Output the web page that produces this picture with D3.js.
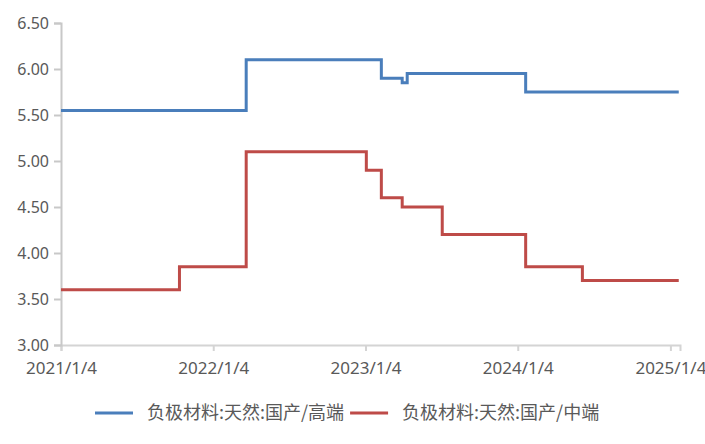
<!DOCTYPE html>
<html>
<head>
<meta charset="utf-8">
<script src="https://cdn.jsdelivr.net/npm/d3@7"></script>
<style>
  body { margin: 0; background: white; }
  text { font-family: "Noto Sans", "Noto Sans CJK SC", sans-serif; fill: #595959; }
  .legend text { font-family: "Noto Sans CJK SC", sans-serif; }
</style>
</head>
<body>
<div id="chart"></div>
<script>
// series: dates where price changes and the price from then on
var highDates = ["2021-01-04", "2022-03-24", "2023-02-11", "2023-04-02", "2023-04-14", "2024-01-23", "2025-01-24"]
var highValues = [5.55, 6.10, 5.90, 5.85, 5.95, 5.75, 5.75]

var midDates = ["2021-01-04", "2021-10-15", "2022-03-24", "2023-01-06", "2023-02-11", "2023-04-02", "2023-07-07", "2024-01-23", "2024-06-07", "2025-01-24"]
var midValues = [3.60, 3.85, 5.10, 4.90, 4.60, 4.50, 4.20, 3.85, 3.70, 3.70]

var seriesNames = ["负极材料:天然:国产/高端", "负极材料:天然:国产/中端"]
var seriesColors = ["#4a7ebb", "#be4b48"]

var xTicks = ["2021-01-04", "2022-01-04", "2023-01-04", "2024-01-04", "2025-01-04"]
var yTicks = [3.00, 3.50, 4.00, 4.50, 5.00, 5.50, 6.00, 6.50]

// set the dimensions and margins of the graph
var margin = {top: 23, right: 25, bottom: 99, left: 61},
    width = 705 - margin.left - margin.right,
    height = 444 - margin.top - margin.bottom;

var parse = d3.timeParse("%Y-%m-%d")

function toPoints(dates, values) {
    return dates.map(function(d, i) { return {date: parse(d), value: values[i]} })
}

var series = [toPoints(highDates, highValues), toPoints(midDates, midValues)]

var svg = d3.select("#chart")
    .append("svg")
    .attr("width", 705)
    .attr("height", 444)

var g = svg.append("g")
    .attr("transform", "translate(" + margin.left + "," + margin.top + ")")

var x = d3.scaleTime()
    .domain([parse("2021-01-04"), parse("2025-01-27")])
    .range([0, width])

var y = d3.scaleLinear()
    .domain([3, 6.5])
    .range([height, 0])

// X axis
var xAxis = g.append("g")
    .attr("transform", "translate(0," + height + ")")
    .call(d3.axisBottom(x)
        .tickValues(xTicks.map(parse))
        .tickFormat(d3.timeFormat("%Y/%-m/%-d"))
        .tickSizeOuter(0)
        .tickSize(6)
        .tickPadding(11))
xAxis.select(".domain").attr("stroke", "#d4d4d4").attr("stroke-width", 2)
xAxis.selectAll(".tick line").attr("stroke", "#d4d4d4").attr("stroke-width", 2)
xAxis.selectAll("text").style("font-size", "17px")

// Y axis
var yAxis = g.append("g")
    .call(d3.axisLeft(y)
        .tickValues(yTicks)
        .tickFormat(d3.format(".2f"))
        .tickSizeOuter(0)
        .tickSize(7)
        .tickPadding(5))
yAxis.select(".domain").attr("stroke", "#c8c8c8").attr("stroke-width", 2)
yAxis.selectAll(".tick line").attr("stroke", "#c8c8c8").attr("stroke-width", 2)
yAxis.selectAll("text").style("font-size", "16px")

// Lines
var line = d3.line()
    .x(function(d) { return x(d.date) })
    .y(function(d) { return y(d.value) })
    .curve(d3.curveStepAfter)

g.selectAll("path.series")
    .data(series)
    .enter()
    .append("path")
    .attr("class", "series")
    .attr("d", line)
    .attr("fill", "none")
    .attr("stroke", function(d, i) { return seriesColors[i] })
    .attr("stroke-width", 3)

// Legend
var legend = svg.append("g").attr("class", "legend").attr("transform", "translate(95,413)")
var offset = 0
seriesNames.forEach(function(name, i) {
    var item = legend.append("g").attr("transform", "translate(" + offset + ",0)")
    item.append("line")
        .attr("x1", 0).attr("x2", 38)
        .attr("stroke", seriesColors[i])
        .attr("stroke-width", 3)
    var t = item.append("text")
        .attr("x", 52)
        .attr("dy", "0.35em")
        .style("font-size", "18px")
        .text(name)
    offset += 52 + t.node().getComputedTextLength() + 6
})
</script>
</body>
</html>
